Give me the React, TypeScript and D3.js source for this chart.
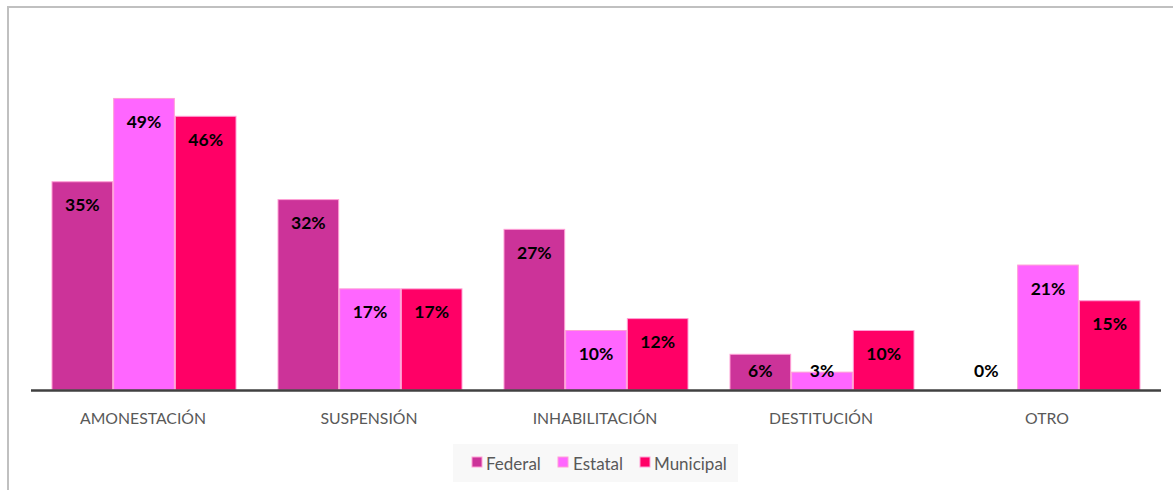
import React from "react";
import * as d3 from "d3";

const categories = ["AMONESTACIÓN", "SUSPENSIÓN", "INHABILITACIÓN", "DESTITUCIÓN", "OTRO"];
const seriesNames = ["Federal", "Estatal", "Municipal"];
const federal = [0.35, 0.32, 0.27, 0.06, 0.0];
const estatal = [0.49, 0.17, 0.10, 0.03, 0.21];
const municipal = [0.46, 0.17, 0.12, 0.10, 0.15];
const seriesValues = [federal, estatal, municipal];
const colors = ["#CC3399", "#FF66FF", "#FF0066"];

const W = 1173;
const H = 490;
const baseline = 390;
const x0 = 31;
const x1 = 1161;

export default function App() {
  const xc = d3.scaleBand<string>().domain(categories).range([x0, x1]);
  const inner = d3.scaleBand<string>().domain(seriesNames).range([0, 185]);
  const y = d3.scaleLinear().domain([0, 0.6]).range([baseline, baseline - 357]);
  const fmt = d3.format(".0%");

  const legendItems = [
    { name: "Federal", sx: 472, tx: 486 },
    { name: "Estatal", sx: 558, tx: 573 },
    { name: "Municipal", sx: 640, tx: 654 },
  ];

  return (
    <svg
      width={W}
      height={H}
      style={{ position: "absolute", left: 0, top: 0, background: "#fff" }}
      fontFamily="Lato, 'Open Sans', sans-serif"
    >
      <rect x={0} y={0} width={W} height={H} fill="#fff" />
      <line x1={8} y1={7} x2={W} y2={7} stroke="#c0c0c0" strokeWidth={2} />
      <line x1={8} y1={6} x2={8} y2={H} stroke="#c0c0c0" strokeWidth={2} />
      {categories.map((c, ci) => {
        const gx = (xc(c) as number) + (xc.bandwidth() - 185) / 2;
        return (
          <g key={c}>
            {seriesNames.map((s, si) => {
              const v = seriesValues[si][ci];
              const bx = gx + (inner(s) as number);
              const top = y(v);
              const ly = Math.min(top + 23, baseline - 20);
              return (
                <g key={s}>
                  {v > 0 && (
                    <rect
                      x={bx + 0.5}
                      y={top}
                      width={inner.bandwidth() - 1}
                      height={baseline - top}
                      fill={colors[si]}
                      stroke="#ff9fd6"
                      strokeWidth={1}
                    />
                  )}
                  <text
                    x={bx + inner.bandwidth() / 2}
                    y={ly}
                    textAnchor="middle"
                    dominantBaseline="central"
                    fontWeight="bold"
                    fontSize={17.5}
                    fill="#000"
                  >
                    {fmt(v)}
                  </text>
                </g>
              );
            })}
            <text
              x={(xc(c) as number) + xc.bandwidth() / 2 - 1}
              y={417}
              textAnchor="middle"
              dominantBaseline="central"
              fontSize={15.8}
              fill="#595959"
            >
              {c}
            </text>
          </g>
        );
      })}
      <line x1={x0} y1={baseline + 0.5} x2={x1} y2={baseline + 0.5} stroke="#404040" strokeWidth={2.5} />
      <rect x={453} y={444} width={285} height={38} fill="#f8f8f8" />
      {legendItems.map((it, i) => (
        <g key={it.name}>
          <rect x={it.sx} y={457} width={10} height={10} fill={colors[i]} stroke="#ff9fd6" strokeWidth={1} />
          <text x={it.tx} y={463} dominantBaseline="central" fontSize={17} fill="#595959">
            {it.name}
          </text>
        </g>
      ))}
    </svg>
  );
}
